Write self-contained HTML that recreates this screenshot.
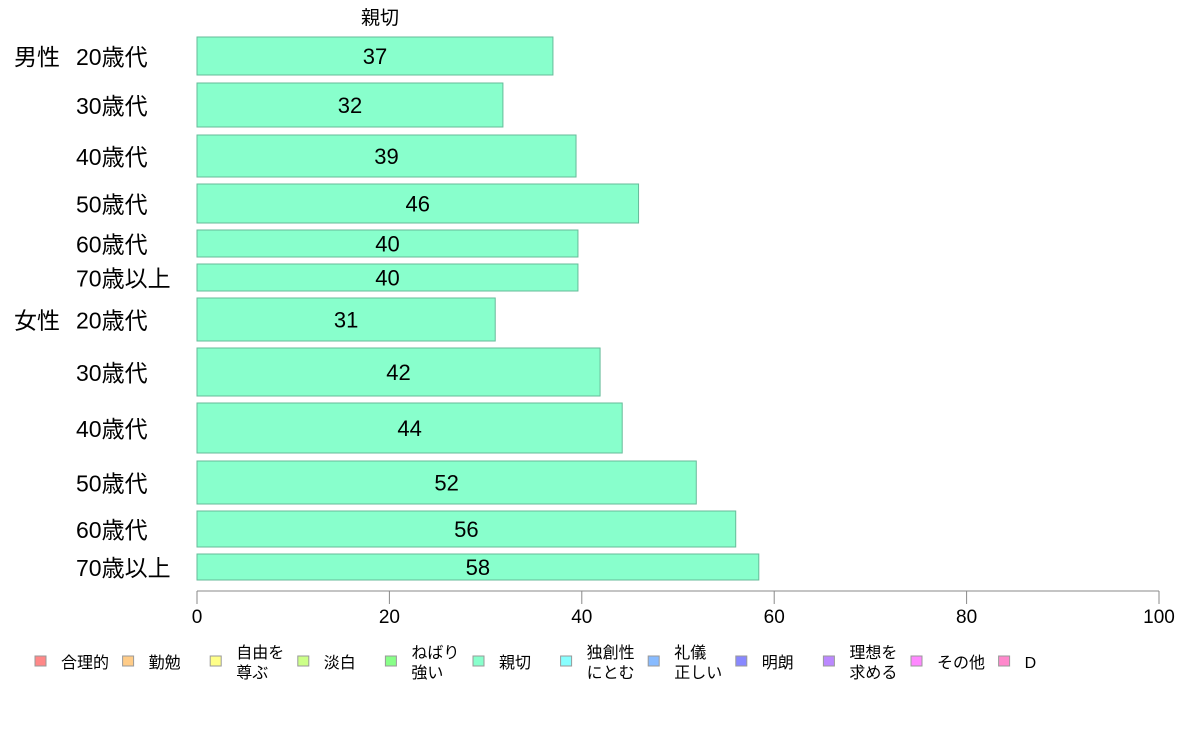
<!DOCTYPE html>
<html><head><meta charset="utf-8"><style>
body{margin:0;background:#fff;}
svg text{font-family:"Liberation Sans","Noto Sans CJK JP",sans-serif;fill:#000;}
</style></head><body>
<svg id="chart" width="1188" height="736" xmlns="http://www.w3.org/2000/svg">
<text x="380" y="24" font-size="19" text-anchor="middle">親切</text>
<g id="bars"></g>
<g id="ylabels"></g>
<g id="xaxis"></g>
<g id="legend"></g>
</svg>
<script>
const categories=["20歳代","30歳代","40歳代","50歳代","60歳代","70歳以上","20歳代","30歳代","40歳代","50歳代","60歳代","70歳以上"];
const groups=["男性","","","","","","女性","","","","",""];
const values=[37.0,31.8,39.4,45.9,39.6,39.6,31.0,41.9,44.2,51.9,56.0,58.4];
const bandTops=[37,83,135,184,230,264,298,348,403,461,511,554];
const bandHeights=[38,44,42,39,27,27,43,48,50,43,36,26];
const xTicks=[0,20,40,60,80,100];
const legendLabels=[["合理的"],["勤勉"],["自由を","尊ぶ"],["淡白"],["ねばり","強い"],["親切"],["独創性","にとむ"],["礼儀","正しい"],["明朗"],["理想を","求める"],["その他"],["D"]];
const legendColors=["#ff8888","#ffcc88","#ffff88","#ccff88","#88ff88","#88ffcc","#88ffff","#88bbff","#8888ff","#bb88ff","#ff88ff","#ff88cc"];
const NS="http://www.w3.org/2000/svg";
const x0=197,x1=1159;
const xs=v=>x0+(x1-x0)*v/100;
function mk(tag,attrs,parent,txt){const e=document.createElementNS(NS,tag);for(const k in attrs)e.setAttribute(k,attrs[k]);if(txt!==undefined)e.textContent=txt;parent.appendChild(e);return e;}
const gb=document.getElementById('bars'),gy=document.getElementById('ylabels'),gx=document.getElementById('xaxis'),gl=document.getElementById('legend');
values.forEach((v,i)=>{
  const y=bandTops[i],h=bandHeights[i];
  const r=mk('rect',{x:x0,y:y,width:xs(v)-x0,height:h,fill:'#88ffcc',stroke:'#66bb99','stroke-width':1},gb);
  
  
  const t=mk('text',{x:(x0+xs(v))/2,y:y+h/2+8,'font-size':22,'text-anchor':'middle'},gb,String(Math.round(v)));
  
  
  const c=mk('text',{x:76,y:y+h/2+9,'font-size':23},gy,categories[i]);
  
  
  if(groups[i]){const g=mk('text',{x:14,y:y+h/2+9,'font-size':23},gy,groups[i]);
  
  }
});
const al=mk('line',{x1:x0,x2:x1,y1:591,y2:591,stroke:'#888','stroke-width':1},gx);


xTicks.forEach(t=>{
  const l=mk('line',{x1:xs(t),x2:xs(t),y1:591,y2:604,stroke:'#888','stroke-width':1},gx);
  
  
  const tx=mk('text',{x:xs(t),y:623,'font-size':19,'text-anchor':'middle'},gx,String(t));
  
  
});
legendLabels.forEach((lab,i)=>{
  const bx=35+i*87.6;
  const s=mk('rect',{x:bx,y:656,width:11,height:10,fill:legendColors[i],stroke:'#999','stroke-width':1},gl);
  
  
  if(lab.length===1){
    const t=mk('text',{x:bx+26,y:668,'font-size':16},gl,lab[0]);
    
    
  }else{
    lab.forEach((ln,j)=>{const t=mk('text',{x:bx+26,y:658+j*20,'font-size':16},gl,ln);
    
    });
  }
});
</script>
</body></html>
